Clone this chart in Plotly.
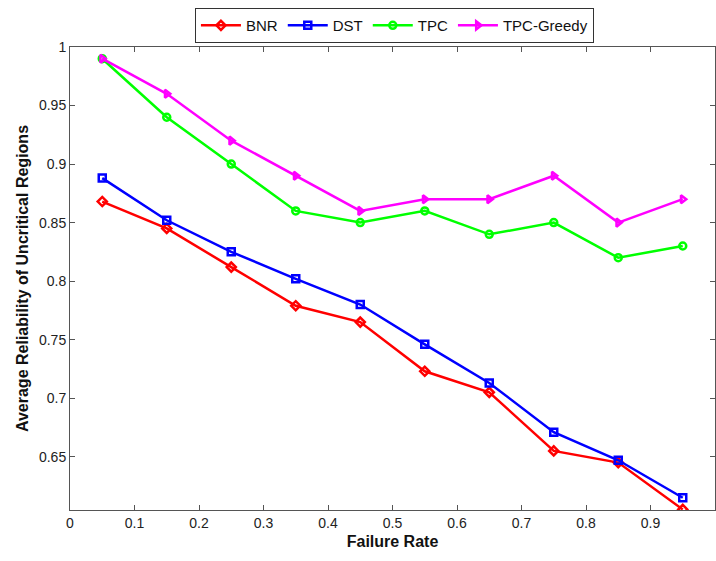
import plotly.graph_objects as go

failure_rate = [0.05, 0.15, 0.25, 0.35, 0.45, 0.55, 0.65, 0.75, 0.85, 0.95]
bnr = [0.868, 0.845, 0.812, 0.779, 0.765, 0.723, 0.705, 0.655, 0.645, 0.605]
dst = [0.888, 0.852, 0.825, 0.802, 0.780, 0.746, 0.713, 0.671, 0.647, 0.615]
tpc = [0.99, 0.94, 0.90, 0.86, 0.85, 0.86, 0.84, 0.85, 0.82, 0.83]
tpc_greedy = [0.99, 0.96, 0.92, 0.89, 0.86, 0.87, 0.87, 0.89, 0.85, 0.87]

x_ticks = [0, 0.1, 0.2, 0.3, 0.4, 0.5, 0.6, 0.7, 0.8, 0.9, 1]
x_ticklabels = ["0", "0.1", "0.2", "0.3", "0.4", "0.5", "0.6", "0.7", "0.8", "0.9", "1"]
y_ticks = [0.65, 0.7, 0.75, 0.8, 0.85, 0.9, 0.95, 1]
y_ticklabels = ["0.65", "0.7", "0.75", "0.8", "0.85", "0.9", "0.95", "1"]

series = [
    ("BNR", bnr, "#ff0000", "diamond-open"),
    ("DST", dst, "#0000ff", "square-open"),
    ("TPC", tpc, "#00ff00", "circle-open"),
    ("TPC-Greedy", tpc_greedy, "#ff00ff", "triangle-right-open"),
]

fig = go.Figure()
for name, vals, color, sym in series:
    fig.add_trace(go.Scatter(
        x=failure_rate, y=vals, name=name, mode="lines+markers",
        line=dict(color=color, width=2.5),
        marker=dict(symbol=sym, size=7, color=color, line=dict(color=color, width=2.5)),
    ))

axis_common = dict(
    showgrid=False, zeroline=False, showline=True, linecolor="#555555", linewidth=1,
    mirror="ticks", ticks="inside", ticklen=5, tickcolor="#555555", automargin=False,
    tickfont=dict(family="Liberation Sans, Arial, sans-serif", size=14, color="#222222"),
)

fig.update_layout(
    width=716, height=561,
    margin=dict(l=70, r=1, t=47, b=51, autoexpand=False),
    paper_bgcolor="white", plot_bgcolor="white",
    font=dict(family="Liberation Sans, Arial, sans-serif", color="#111111"),
    xaxis=dict(range=[0, 1], tickvals=x_ticks, ticktext=x_ticklabels,
               title=dict(text="<b>Failure Rate</b>", font=dict(size=16), standoff=6),
               **axis_common),
    yaxis=dict(range=[0.6045, 1], tickvals=y_ticks, ticktext=y_ticklabels,
               title=dict(text="<b>Average Reliability of Uncritical Regions</b>", font=dict(size=16), standoff=6),
               **axis_common),
    legend=dict(orientation="h", x=0.503, xanchor="center", y=1.084, yanchor="top",
                bordercolor="#333333", borderwidth=1, bgcolor="white",
                font=dict(size=15), itemwidth=40, tracegroupgap=0),
)

fig.write_html("out.html", config={"displayModeBar": False},
               post_script="document.body.style.margin='0';document.body.style.overflow='hidden';")
